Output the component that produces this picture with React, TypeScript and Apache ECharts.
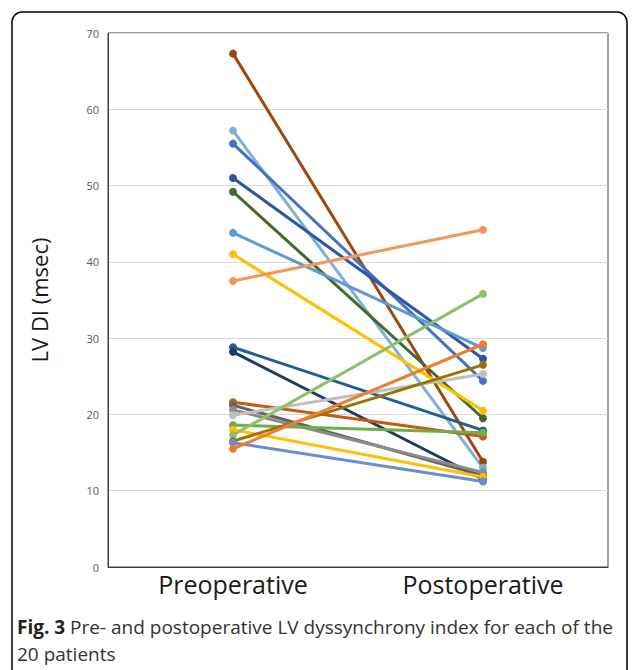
import React, { useEffect, useRef } from "react";
import * as echarts from "echarts";

const categories = ["Preoperative", "Postoperative"];
const yTicks = { min: 0, max: 70, interval: 10 };

const preValues = [67.3, 57.2, 55.5, 51.0, 49.2, 43.8, 41.0, 37.5, 28.8, 28.2, 21.6, 21.2, 20.6, 19.9, 18.6, 18.0, 17.3, 16.5, 16.3, 15.5];
const postValues = [13.8, 13.0, 24.4, 27.3, 19.5, 28.7, 20.5, 44.2, 17.9, 11.5, 17.1, 12.0, 12.4, 25.3, 17.6, 11.8, 35.8, 26.5, 11.2, 29.2];
const seriesColors = [
  "#9E480E", "#7CAFDD", "#4472C4", "#2F55A0", "#43682B", "#5B9BD5", "#FFC000", "#F1975A", "#255E91", "#203864",
  "#C55A11", "#636363", "#8C8C8C", "#BFBFBF", "#70AD47", "#FFC000", "#8CC168", "#997300", "#698ED0", "#ED7D31",
];

export default function App() {
  const ref = useRef<HTMLDivElement>(null);
  useEffect(() => {
    if (!ref.current) return;
    const chart = echarts.init(ref.current, null, { renderer: "svg" });
    const series = preValues.map((v, i) => ({
      type: "line",
      name: "Patient " + (i + 1),
      data: [v, postValues[i]],
      symbol: "circle",
      symbolSize: 8,
      lineStyle: { width: 3, color: seriesColors[i] },
      itemStyle: { color: seriesColors[i] },
      z: 2,
    }));
    chart.setOption({
      animation: false,
      grid: { left: 108, right: 26, top: 33, bottom: 103, show: true, borderColor: "#404040", borderWidth: 1, backgroundColor: "transparent" },
      xAxis: {
        type: "category",
        data: categories,
        boundaryGap: true,
        axisLine: { show: true, lineStyle: { color: "#404040", width: 1 } },
        axisTick: { show: false },
        axisLabel: { fontSize: 25, color: "#1a1a1a", margin: 4, fontFamily: "Open Sans", fontWeight: 500 },
      },
      yAxis: {
        type: "value",
        min: yTicks.min,
        max: yTicks.max,
        interval: yTicks.interval,
        name: "LV DI (msec)",
        nameLocation: "middle",
        nameGap: 58,
        nameTextStyle: { fontSize: 22, color: "#1a1a1a", fontFamily: "Open Sans", fontWeight: 500 },
        axisLine: { show: true, lineStyle: { color: "#404040", width: 1 } },
        axisTick: { show: false },
        axisLabel: { fontSize: 11, color: "#595959", margin: 9, fontFamily: "Open Sans" },
        splitLine: { show: true, lineStyle: { color: "#d9d9d9", width: 1 } },
      },
      graphic: [
        {
          type: "rect",
          shape: { x: 12, y: 12, width: 615, height: 700, r: 10 },
          style: { fill: "none", stroke: "#000", lineWidth: 1.5 },
          silent: true,
        },
        {
          type: "text",
          left: 17,
          top: 613,
          style: {
            text: "{b|Fig. 3} Pre- and postoperative LV dyssynchrony index for each of the\n20 patients",
            fontSize: 19,
            lineHeight: 27,
            fontFamily: "Open Sans",
            fill: "#333",
            rich: { b: { fontWeight: "bold", fontSize: 19, lineHeight: 27, fontFamily: "Open Sans", fill: "#222" } },
          },
        },
      ],
      series,
    });
    return () => chart.dispose();
  }, []);
  return <div ref={ref} style={{ position: "fixed", left: 0, top: 0, width: 634, height: 670, background: "#fff" }} />;
}
